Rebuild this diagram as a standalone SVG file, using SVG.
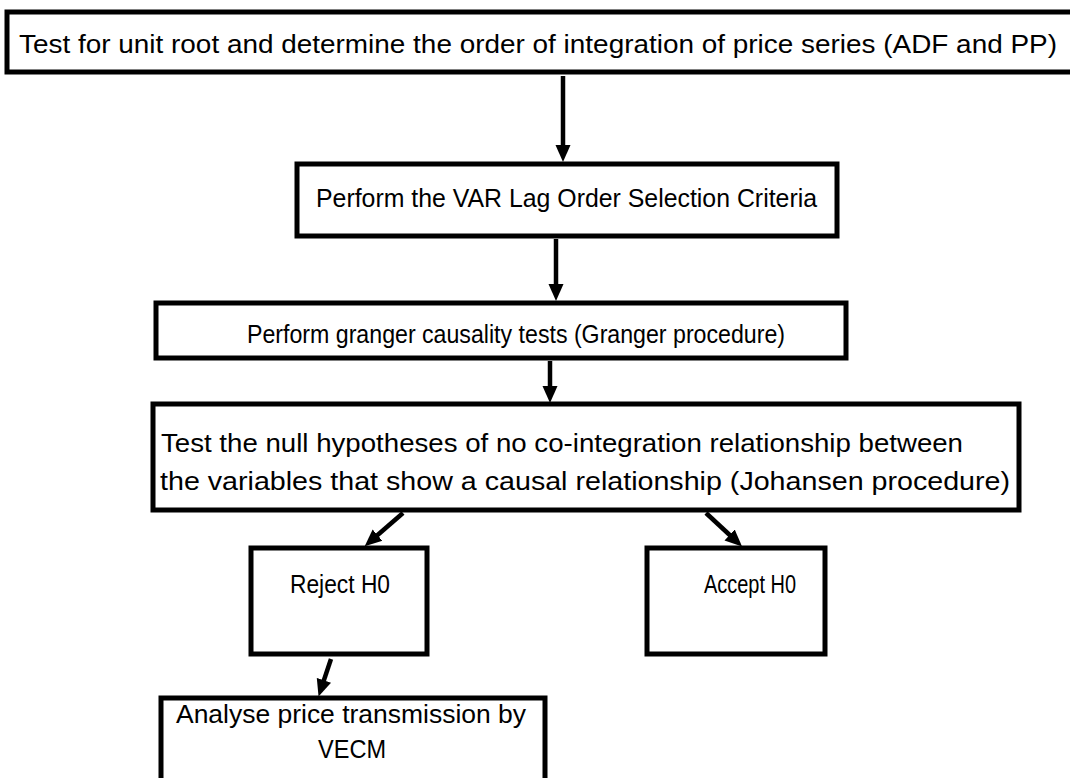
<svg xmlns="http://www.w3.org/2000/svg" width="1070" height="778" viewBox="0 0 1070 778">
<style>
.box{fill:#fff;stroke:#000;stroke-width:5;}
.t{font-family:"Liberation Sans",Arial,sans-serif;font-size:25px;fill:#000;}
.c{stroke:#000;stroke-width:4.5;fill:none;}
</style>
<defs>
<marker id="ah" markerUnits="userSpaceOnUse" markerWidth="17" markerHeight="17" refX="6" refY="8.5" orient="auto">
<path d="M0,1 L17,8.5 L0,16 z" fill="#000"/>
</marker>
</defs>
<rect width="1070" height="778" fill="#fff"/>
<g id="n1">
<rect class="box" x="7" y="12" width="1080" height="60"/>
<text class="t" x="19" y="53" textLength="1038" lengthAdjust="spacingAndGlyphs">Test for unit root and determine the order of integration of price series (ADF and PP)</text>
</g>
<g id="n2">
<rect class="box" x="297" y="164" width="540" height="72"/>
<text class="t" x="316" y="207" textLength="501" lengthAdjust="spacingAndGlyphs">Perform the VAR Lag Order Selection Criteria</text>
</g>
<g id="n3">
<rect class="box" x="156" y="303" width="690" height="55"/>
<text class="t" x="247" y="343" textLength="538" lengthAdjust="spacingAndGlyphs">Perform granger causality tests (Granger procedure)</text>
</g>
<g id="n4">
<rect class="box" x="153" y="404" width="866" height="106"/>
<text class="t" x="161" y="452" textLength="802" lengthAdjust="spacingAndGlyphs">Test the null hypotheses of no co-integration relationship between</text>
<text class="t" x="160" y="490" textLength="850" lengthAdjust="spacingAndGlyphs">the variables that show a causal relationship (Johansen procedure)</text>
</g>
<g id="n5">
<rect class="box" x="251" y="548" width="176" height="106"/>
<text class="t" x="340" y="593" text-anchor="middle" textLength="100" lengthAdjust="spacingAndGlyphs">Reject H0</text>
</g>
<g id="n6">
<rect class="box" x="647" y="548" width="178" height="106"/>
<text class="t" x="750" y="593" text-anchor="middle" textLength="92" lengthAdjust="spacingAndGlyphs">Accept H0</text>
</g>
<g id="n7">
<rect class="box" x="161" y="698" width="384" height="100"/>
<text class="t" x="176" y="723" textLength="350" lengthAdjust="spacingAndGlyphs">Analyse price transmission by</text>
<text class="t" x="352" y="758" text-anchor="middle" textLength="68" lengthAdjust="spacingAndGlyphs">VECM</text>
</g>
<g id="connectors">
<line class="c" x1="563" y1="76" x2="563" y2="151" marker-end="url(#ah)"/>
<line class="c" x1="556" y1="239" x2="556" y2="290" marker-end="url(#ah)"/>
<line class="c" x1="550" y1="361" x2="550" y2="392" marker-end="url(#ah)"/>
<line class="c" x1="403" y1="513" x2="373" y2="539" marker-end="url(#ah)"/>
<line class="c" x1="706" y1="513" x2="734" y2="539" marker-end="url(#ah)"/>
<line class="c" x1="331" y1="659" x2="322" y2="686" marker-end="url(#ah)"/>
</g>
</svg>
